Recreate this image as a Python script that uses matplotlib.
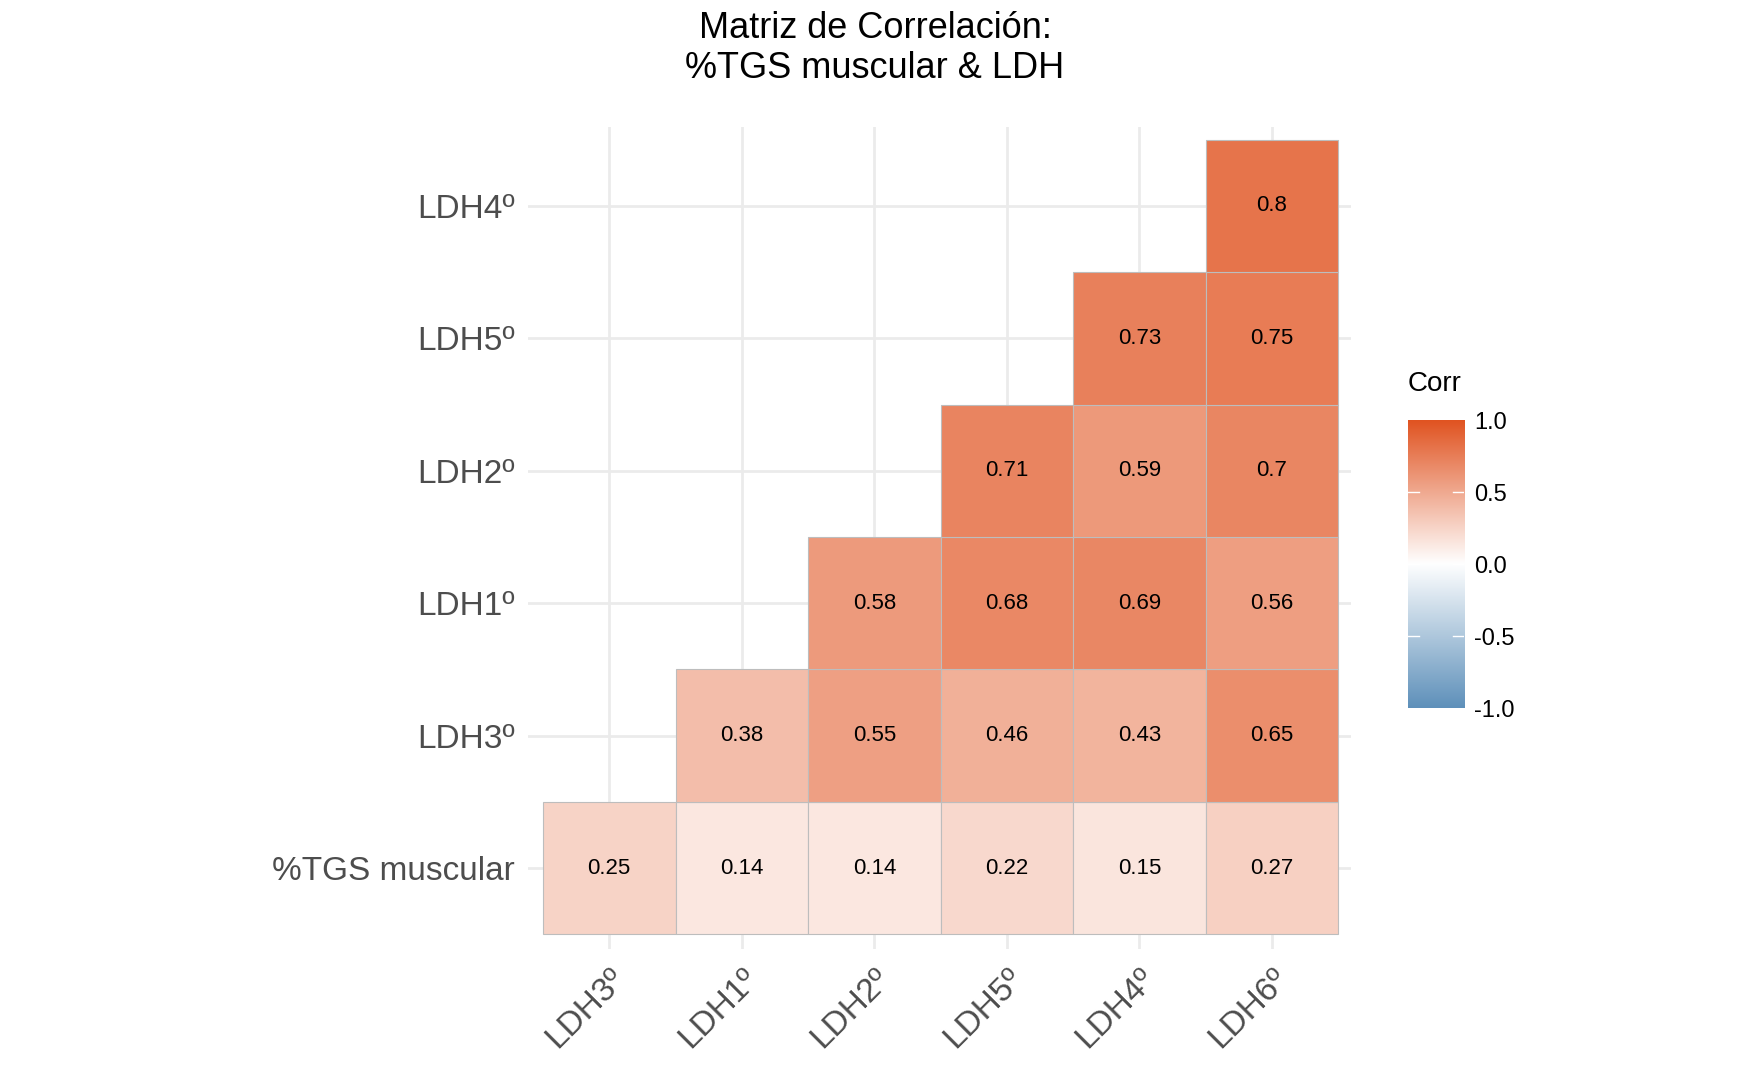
import numpy as np
import matplotlib.pyplot as plt
from matplotlib.colors import LinearSegmentedColormap

plt.rcParams['font.family'] = ['Liberation Sans', 'DejaVu Sans']

cols = ['LDH3º', 'LDH1º', 'LDH2º', 'LDH5º', 'LDH4º', 'LDH6º']
rows = ['%TGS muscular', 'LDH3º', 'LDH1º', 'LDH2º', 'LDH5º', 'LDH4º']
nan = np.nan
corr = np.array([
    [0.25, 0.14, 0.14, 0.22, 0.15, 0.27],
    [nan, 0.38, 0.55, 0.46, 0.43, 0.65],
    [nan, nan, 0.58, 0.68, 0.69, 0.56],
    [nan, nan, nan, 0.71, 0.59, 0.70],
    [nan, nan, nan, nan, 0.73, 0.75],
    [nan, nan, nan, nan, nan, 0.80],
])

cmap = LinearSegmentedColormap.from_list('corr', ['#5E90BA', 'white', '#E0521F'])

W, H = 1550, 957
fig = plt.figure(figsize=(17.5, 10.81), dpi=100)
ax = fig.add_axes([468 / W, 1 - 840 / H, 729 / W, 728 / H])
ax.set_axisbelow(True)
ax.grid(True, color='#EBEBEB', lw=2)
for s in ax.spines.values():
    s.set_visible(False)

for i in range(len(rows)):
    for j in range(len(cols)):
        v = corr[i, j]
        if np.isnan(v):
            continue
        ax.add_patch(plt.Rectangle((j - 0.5, i - 0.5), 1, 1, facecolor=cmap((v + 1) / 2),
                                   edgecolor='#BDBDBD', lw=0.8, zorder=2))
        ax.text(j, i, f'{v:g}', ha='center', va='center', fontsize=16, color='black', zorder=3)

ax.set_xlim(-0.61, 5.6)
ax.set_ylim(-0.61, 5.6)
ax.set_xticks(range(len(cols)))
ax.set_xticklabels(cols, rotation=45, ha='right', rotation_mode='anchor', fontsize=24, color='#4D4D4D')
ax.set_yticks(range(len(rows)))
ax.set_yticklabels(rows, fontsize=24, color='#4D4D4D')
ax.tick_params(length=0, pad=10)

fig.suptitle('Matriz de Correlación:\n%TGS muscular & LDH', fontsize=26, y=0.99)

cax = fig.add_axes([1247 / W, 1 - 627 / H, 50 / W, 255 / H])
grad = np.linspace(-1, 1, 256).reshape(-1, 1)
cax.imshow(grad, aspect='auto', cmap=cmap, origin='lower', extent=[0, 1, -1, 1])
cax.set_xticks([])
cax.yaxis.tick_right()
cax.set_yticks([-1, -0.5, 0, 0.5, 1])
cax.set_yticklabels(['-1.0', '-0.5', '0.0', '0.5', '1.0'], fontsize=17)
cax.tick_params(axis='y', length=0, pad=7)
for t in [-0.5, 0, 0.5]:
    cax.plot([0, 0.2], [t, t], color='white', lw=1)
    cax.plot([0.8, 1], [t, t], color='white', lw=1)
for s in cax.spines.values():
    s.set_visible(False)
fig.text(1247 / W, 1 - 340 / H, 'Corr', fontsize=20, va='center')

fig.savefig('out.png', dpi=100)
